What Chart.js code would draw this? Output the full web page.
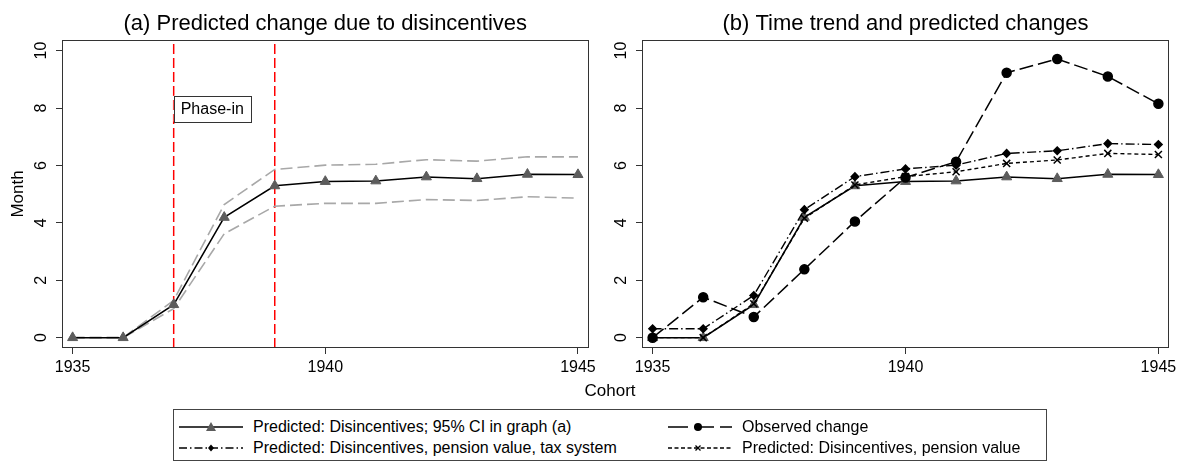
<!DOCTYPE html>
<html>
<head>
<meta charset="utf-8">
<script src="https://cdn.jsdelivr.net/npm/chart.js@4.4.0/dist/chart.umd.min.js"></script>
<style>
  html, body { margin: 0; padding: 0; background: #fff; }
  body { width: 1184px; height: 463px; overflow: hidden; position: relative; font-family: "Liberation Sans", Arial, sans-serif; color: #000; }
  #c1 { position: absolute; left: 0; top: 0; }
  #c2 { position: absolute; left: 592px; top: 0; }
  #xtitle { position: absolute; left: 540px; width: 140px; top: 381px; line-height: 20px; font-size: 17px; text-align: center; }
  #legend { position: absolute; left: 173px; top: 409px; width: 874px; height: 52px; border: 1px solid #444; box-sizing: border-box; }
  .item { position: absolute; height: 20px; }
  .item svg { position: absolute; top: 4px; }
  .item span { position: absolute; white-space: nowrap; font-size: 16px; line-height: 20px; top: 0; }
</style>
</head>
<body>
<canvas id="c1" width="600" height="400"></canvas>
<canvas id="c2" width="592" height="400"></canvas>
<div id="xtitle">Cohort</div>
<div id="legend">
  <div class="item" style="left:5px; top:7px;">
    <svg width="64" height="12"><line x1="0" y1="6" x2="64" y2="6" stroke="#000" stroke-width="1.5"/><polygon points="32,1 37,10 27,10" fill="#5c5c5c"/></svg>
    <span style="left:74px;">Predicted: Disincentives; 95% CI in graph (a)</span>
  </div>
  <div class="item" style="left:5px; top:28px;">
    <svg width="64" height="12"><line x1="0" y1="6" x2="64" y2="6" stroke="#000" stroke-width="1.3" stroke-dasharray="8 3 1.5 3"/><polygon points="32,2.5 35,6 32,9.5 29,6" fill="#000"/></svg>
    <span style="left:74px;">Predicted: Disincentives, pension value, tax system</span>
  </div>
  <div class="item" style="left:494px; top:7px;">
    <svg width="64" height="12"><line x1="0" y1="6" x2="64" y2="6" stroke="#000" stroke-width="1.5" stroke-dasharray="20 6"/><circle cx="30" cy="6" r="4" fill="#000"/></svg>
    <span style="left:74px;">Observed change</span>
  </div>
  <div class="item" style="left:494px; top:28px;">
    <svg width="64" height="12"><line x1="0" y1="6" x2="64" y2="6" stroke="#000" stroke-width="1.3" stroke-dasharray="4 2.5"/><path d="M27.5,3.5 L32.5,8.5 M32.5,3.5 L27.5,8.5" stroke="#000" stroke-width="1.3"/></svg>
    <span style="left:74px;">Predicted: Disincentives, pension value</span>
  </div>
</div>
<script>
// ---------------- data ----------------
const cohorts = [1935, 1936, 1937, 1938, 1939, 1940, 1941, 1942, 1943, 1944, 1945];
const predicted = [0, 0, 1.15, 4.19, 5.29, 5.44, 5.46, 5.60, 5.54, 5.69, 5.68];
const ciUpper = [0, 0, 1.30, 4.64, 5.86, 6.01, 6.04, 6.20, 6.15, 6.30, 6.30];
const ciLower = [0, 0, 1.01, 3.62, 4.58, 4.68, 4.68, 4.81, 4.78, 4.91, 4.86];
const observed = [0, 1.41, 0.72, 2.38, 4.05, 5.58, 6.13, 9.23, 9.71, 9.10, 8.15];
const predPensionTax = [0.31, 0.31, 1.47, 4.46, 5.61, 5.88, 6.01, 6.42, 6.51, 6.76, 6.73];
const predPension = [0, 0, 1.18, 4.16, 5.32, 5.61, 5.78, 6.07, 6.19, 6.42, 6.38];
const phaseLines = [1937, 1939];
const phaseLabel = "Phase-in";
const phaseLabelY = 7.98;
const xTicks = [1935, 1940, 1945];
const yTicks = [0, 2, 4, 6, 8, 10];
const xRange = [1934.79, 1945.21];
const yRange = [-0.36, 10.37];
const titleA = "(a) Predicted change due to disincentives";
const titleB = "(b) Time trend and predicted changes";
const yTitle = "Month";

// ---------------- helpers ----------------
const FONT = '"Liberation Sans", Arial, sans-serif';
Chart.defaults.font.family = FONT;
Chart.defaults.color = '#000';
const pts = arr => cohorts.map((c, i) => ({ x: c, y: arr[i] }));

const framePlugin = {
  id: 'frame',
  afterDatasetsDraw(chart) {
    const { left, top, right, bottom } = chart.chartArea;
    const ctx = chart.ctx;
    ctx.save();
    ctx.strokeStyle = '#333';
    ctx.lineWidth = 1;
    ctx.strokeRect(Math.round(left) + 0.5, Math.round(top) + 0.5, Math.round(right - left) - 1, Math.round(bottom - top) - 1);
    ctx.restore();
  }
};

const rotYTicks = {
  id: 'rotYTicks',
  afterDraw(chart) {
    const ctx = chart.ctx, ys = chart.scales.y, area = chart.chartArea;
    ctx.save();
    ctx.font = '16px ' + FONT;
    ctx.fillStyle = '#000';
    ctx.textAlign = 'center';
    ctx.textBaseline = 'middle';
    yTicks.forEach(v => {
      const py = ys.getPixelForValue(v);
      ctx.save();
      ctx.translate(area.left - 20, py);
      ctx.rotate(-Math.PI / 2);
      ctx.fillText(String(v), 0, 0);
      ctx.restore();
    });
    ctx.restore();
  }
};

const phaseBox = {
  id: 'phaseBox',
  afterDatasetsDraw(chart) {
    const ctx = chart.ctx;
    const x0 = chart.scales.x.getPixelForValue(phaseLines[0]);
    const yc = chart.scales.y.getPixelForValue(phaseLabelY);
    ctx.save();
    ctx.font = '16px ' + FONT;
    const w = ctx.measureText(phaseLabel).width + 14;
    const h = 26;
    ctx.fillStyle = '#fff';
    ctx.fillRect(x0, yc - h / 2, w, h);
    ctx.strokeStyle = '#333';
    ctx.lineWidth = 1;
    ctx.strokeRect(Math.round(x0) + 0.5, Math.round(yc - h / 2) + 0.5, Math.round(w), h);
    ctx.fillStyle = '#000';
    ctx.textAlign = 'left';
    ctx.textBaseline = 'middle';
    ctx.fillText(phaseLabel, x0 + 7, yc + 1);
    ctx.restore();
  }
};

function makeScales(yAxisWidth, showYTitle) {
  return {
    x: {
      type: 'linear', min: xRange[0], max: xRange[1],
      afterBuildTicks: s => { s.ticks = xTicks.map(v => ({ value: v })); },
      afterFit: s => { s.height = 52; },
      border: { display: false },
      grid: { display: true, drawOnChartArea: false, drawTicks: true, tickLength: 6, color: '#333', lineWidth: 1 },
      ticks: { font: { size: 16 }, color: '#000', padding: 4, maxRotation: 0, autoSkip: false, callback: v => String(v) }
    },
    y: {
      type: 'linear', min: yRange[0], max: yRange[1],
      afterBuildTicks: s => { s.ticks = yTicks.map(v => ({ value: v })); },
      afterFit: s => { s.width = yAxisWidth; },
      border: { display: false },
      grid: { display: true, drawOnChartArea: false, drawTicks: true, tickLength: 6, color: '#333', lineWidth: 1 },
      ticks: { display: false },
      title: { display: showYTitle, text: yTitle, font: { size: 17 }, color: '#000', padding: { top: 8, bottom: 0 } }
    }
  };
}

function baseOptions(title, yAxisWidth, rightPad, showYTitle) {
  return {
    responsive: false,
    animation: false,
    devicePixelRatio: 1,
    layout: { padding: { left: 0, right: rightPad, top: 0, bottom: 0 } },
    plugins: {
      legend: { display: false },
      tooltip: { enabled: false },
      title: { display: true, text: title, fullSize: false, font: { size: 22, weight: 'normal' }, color: '#000', padding: { top: 11, bottom: 2.6 } }
    },
    scales: makeScales(yAxisWidth, showYTitle),
    elements: { line: { tension: 0 } }
  };
}

// ---------------- chart (a) ----------------
const dsA = [
  { data: pts(predicted), borderColor: '#000', borderWidth: 1.5, pointStyle: 'triangle', pointRadius: 5.8, pointBackgroundColor: '#5c5c5c', pointBorderColor: '#5c5c5c', pointBorderWidth: 1, order: 1 },
  { data: pts(ciUpper), borderColor: '#a8a8a8', borderWidth: 1.6, borderDash: [12, 5], pointRadius: 0, order: 2 },
  { data: pts(ciLower), borderColor: '#a8a8a8', borderWidth: 1.6, borderDash: [12, 5], pointRadius: 0, order: 2 }
];
phaseLines.forEach(v => {
  dsA.push({ data: [{ x: v, y: yRange[0] }, { x: v, y: yRange[1] }], borderColor: '#ff0000', borderWidth: 1.5, borderDash: [10, 4], pointRadius: 0, order: 5 });
});

new Chart(document.getElementById('c1'), {
  type: 'line',
  data: { datasets: dsA },
  options: baseOptions(titleA, 62, 9, true),
  plugins: [framePlugin, rotYTicks, phaseBox]
});

// ---------------- chart (b) ----------------
const dsB = [
  { data: pts(predicted), borderColor: '#000', borderWidth: 1.5, pointStyle: 'triangle', pointRadius: 5.8, pointBackgroundColor: '#5c5c5c', pointBorderColor: '#5c5c5c', pointBorderWidth: 1, order: 4 },
  { data: pts(observed), borderColor: '#000', borderWidth: 1.5, borderDash: [14, 5], pointStyle: 'circle', pointRadius: 4.5, pointBackgroundColor: '#000', pointBorderColor: '#000', order: 3 },
  { data: pts(predPensionTax), borderColor: '#000', borderWidth: 1.4, borderDash: [9, 3, 1.5, 3], pointStyle: 'rectRot', pointRadius: 3.8, pointBackgroundColor: '#000', pointBorderColor: '#000', order: 2 },
  { data: pts(predPension), borderColor: '#000', borderWidth: 1.4, borderDash: [4, 3], pointStyle: 'crossRot', pointRadius: 5, pointBorderColor: '#000', pointBorderWidth: 1.5, order: 1 }
];

new Chart(document.getElementById('c2'), {
  type: 'line',
  data: { datasets: dsB },
  options: baseOptions(titleB, 50, 15, false),
  plugins: [framePlugin, rotYTicks]
});
</script>
</body>
</html>
